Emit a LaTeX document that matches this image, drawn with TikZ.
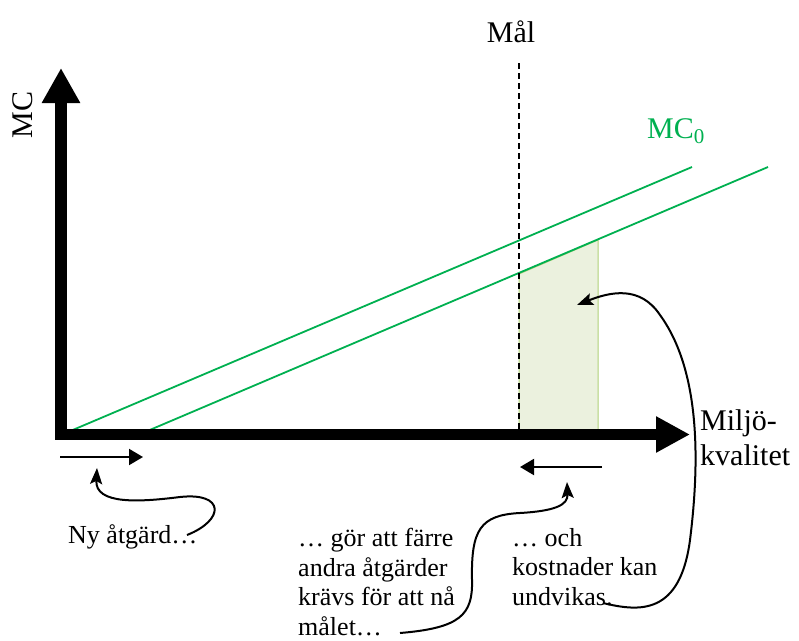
\documentclass[tikz,border=0pt]{standalone}
\usepackage{fontspec}
\setmainfont{Liberation Serif}
\usetikzlibrary{arrows.meta}
\definecolor{mcgreen}{RGB}{0,176,80}
\definecolor{areafill}{RGB}{235,241,222}
\definecolor{areaedge}{RGB}{175,208,120}
\tikzset{
  axisline/.style={line width=11.5pt, line join=miter,
    {Triangle[length=35pt,width=36pt]}-{Triangle[length=34pt,width=34pt]}},
  mcline/.style={mcgreen, line width=1.8pt},
  goalline/.style={line width=1.8pt, dash pattern=on 6pt off 4pt},
  shift arrow/.style={line width=2pt, -{Triangle[length=14pt,width=16pt]}},
  note arrow/.style={line width=2pt, -{Stealth[length=16pt,width=12pt,inset=3pt]}},
  bigtext/.style={font=\fontsize{30}{35}\selectfont, inner sep=0pt},
  notetext/.style={font=\fontsize{26}{29.7}\selectfont, inner sep=0pt, align=left},
}
\begin{document}
\begin{tikzpicture}[x=1pt,y=-1pt]
  \useasboundingbox (0,0) rectangle (799,640);

  % avoided cost area between goal and shifted curve
  \filldraw[fill=areafill, draw=areaedge, line width=1pt]
    (519,434) -- (519,274) -- (598,240) -- (598,434) -- cycle;

  % marginal cost curves
  \coordinate (a0) at (68,432);
  \coordinate (a1) at (692,167);
  \coordinate (b0) at (145,432);
  \coordinate (b1) at (768,167);
  \draw[mcline] (a0) -- (a1);
  \draw[mcline] (b0) -- (b1);

  % goal line
  \coordinate (g0) at (519,63);
  \coordinate (g1) at (519,432);
  \draw[goalline] (g0) -- (g1);

  % axes
  \coordinate (ytip) at (61,68);
  \coordinate (origin) at (61,434.5);
  \coordinate (xtip) at (690,434.5);
  \draw[axisline] (ytip) -- (origin) -- (xtip);

  % labels
  \node[bigtext, rotate=90] (mc) at (23,115) {MC};
  \node[bigtext, anchor=base] (goal) at (511,42) {Mål};
  \node[bigtext, anchor=base west, text=mcgreen] (mc0) at (647,138) {MC\textsubscript{0}};
  \node[bigtext, anchor=north west, align=left] (xlabel) at (700,409) {Miljö-\\kvalitet};

  % shift arrows under the axis
  \coordinate (s0) at (60,457);
  \coordinate (s1) at (143,457);
  \coordinate (t0) at (602,467);
  \coordinate (t1) at (520,467);
  \draw[shift arrow] (s0) -- (s1);
  \draw[shift arrow] (t0) -- (t1);

  % explanatory notes
  \node[notetext, anchor=base west] (new) at (68,543) {Ny åtgärd…};
  \node[notetext, anchor=north west] (fewer) at (298,528)
    {… gör att färre\\andra åtgärder\\krävs för att nå\\målet…};
  \node[notetext, anchor=north west] (costs) at (512,528)
    {… och\\kostnader kan\\undvikas.};

  % connectors from notes
  \coordinate (n0) at (187,535);
  \coordinate (n1) at (97,468);
  \draw[note arrow] (n0) .. controls (225,520) and (225,492) .. (180,497)
    .. controls (140,502) and (95,505) .. (n1);

  \coordinate (f0) at (400,633);
  \coordinate (f1) at (567,482);
  \draw[note arrow] (f0) .. controls (460,628) and (473,615) .. (472,580)
    .. controls (471,530) and (480,515) .. (520,513)
    .. controls (555,511) and (568,505) .. (f1);

  \coordinate (c0) at (603,603);
  \coordinate (c1) at (577,305);
  \draw[note arrow] (c0) .. controls (640,612) and (680,615) .. (690,540)
    .. controls (700,460) and (700,370) .. (660,315)
    .. controls (640,285) and (610,292) .. (c1);
\end{tikzpicture}
\end{document}
